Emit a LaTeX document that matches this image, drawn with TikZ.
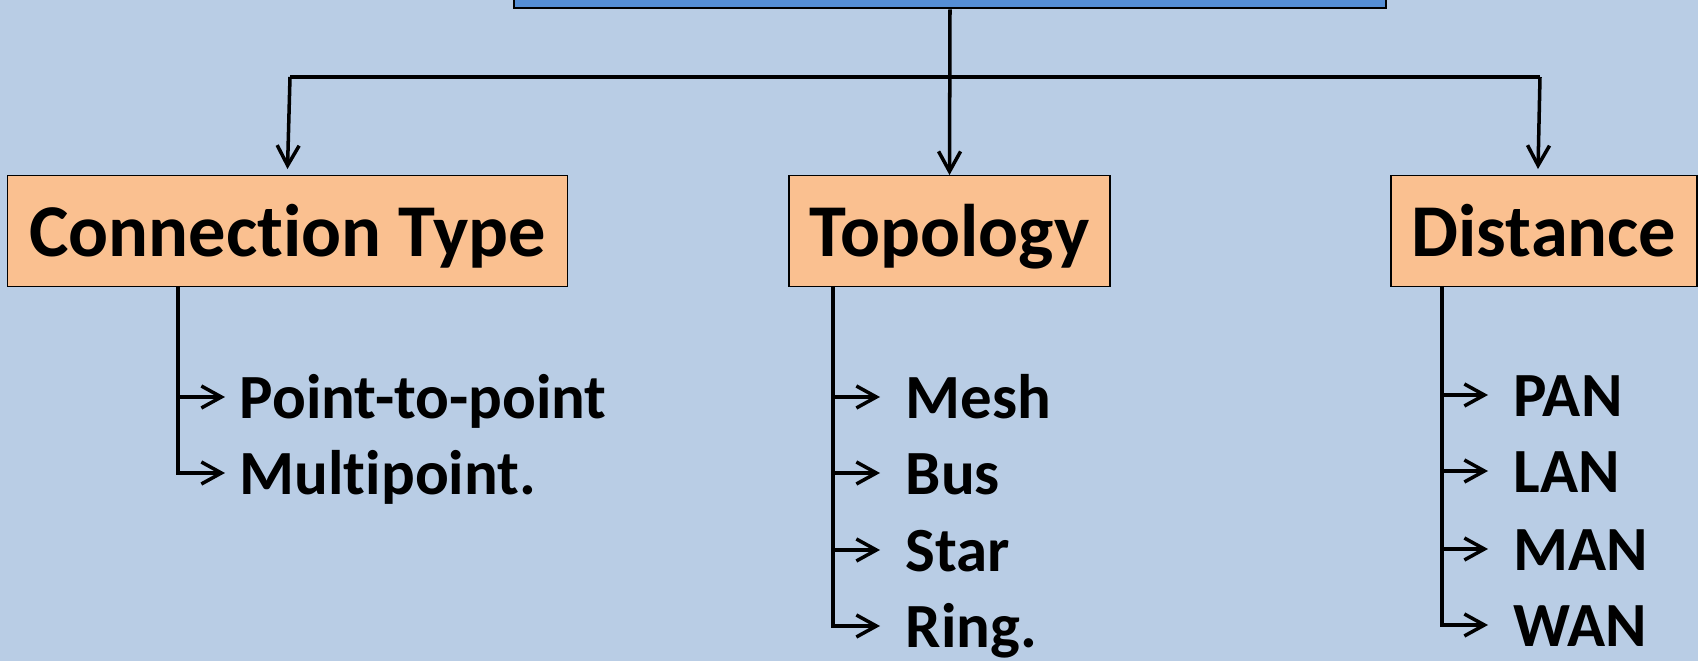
\documentclass[tikz,border=0pt]{standalone}
\usepackage{fontspec}
\setmainfont{Carlito}[Ligatures=NoCommon]
\usetikzlibrary{arrows.meta,calc}

\definecolor{bgblue}{RGB}{185,205,229}
\definecolor{rootblue}{RGB}{85,142,213}
\definecolor{boxorange}{RGB}{250,192,144}

\begin{document}
\begin{tikzpicture}[x=0.1mm,y=-0.1mm,>={Straight Barb[length=2mm,width=2.2mm]},
    box/.style={draw,line width=0.4pt,fill=boxorange,inner sep=0,minimum height=11.05mm,text height=6mm,text depth=0.8mm,font=\fontsize{21.2pt}{25pt}\selectfont\bfseries},
    item/.style={anchor=base west,inner ysep=0,inner xsep=1.4mm,text height=5mm,text depth=0.6mm,font=\fontsize{17.9pt}{21pt}\selectfont\bfseries},
    wide/.style={inner xsep=2.5mm},
    link/.style={line width=1pt}]
    \fill[bgblue] (0,0) rectangle (1698,661);
    \useasboundingbox (0,0) rectangle (1698,661);

    % top box and the three categories
    \node[draw,line width=0.8pt,fill=rootblue,anchor=south,minimum width=87.2mm,minimum height=8mm] (root) at (950,9.5) {};
    \node[box,minimum width=56mm] (conn) at (287.5,231) {Connection Type};
    \node[box,minimum width=32.1mm] (topo) at (949.5,231) {Topology};
    \node[box,minimum width=30.6mm] (dist) at (1544,231) {Distance};

    \coordinate (lsplit) at (290,77);
    \coordinate (rsplit) at (1540,77);
    \draw[link,->] (root.south) -- (topo.north);
    \draw[line width=1.2pt] (lsplit) -- (rsplit);
    \draw[link,->] (lsplit) -- ($(conn.north)+(0,-6)$);
    \draw[link,->] (rsplit) -- ($(dist.north)+(-6,-6)$);

    % connection type
    \node[item] (p2p) at (225,419) {Point-to-point};
    \node[item] (multi) at (225,495) {Multipoint.};
    \coordinate (cspine) at (178,286);
    \draw[link,->] (cspine |- p2p.west) -- (p2p.west);
    \draw[link,->] (cspine) |- (multi.west);

    % topology
    \node[item,wide] (mesh) at (880,419) {Mesh};
    \node[item,wide] (bus) at (880,495) {Bus};
    \node[item,wide] (star) at (880,572) {Star};
    \node[item,wide] (ring) at (880,648) {Ring.};
    \coordinate (tspine) at (833,286);
    \foreach \n in {mesh,bus,star}
      \draw[link,->] (tspine |- \n.west) -- (\n.west);
    \draw[link,->] (tspine) |- (ring.west);

    % distance
    \node[item,wide] (pan) at (1488,417) {PAN};
    \node[item,wide] (lan) at (1488,493) {LAN};
    \node[item,wide] (man) at (1488,571) {MAN};
    \node[item,wide] (wan) at (1488,647) {WAN};
    \coordinate (dspine) at (1442,286);
    \foreach \n in {pan,lan,man}
      \draw[link,->] (dspine |- \n.west) -- (\n.west);
    \draw[link,->] (dspine) |- (wan.west);
  \end{tikzpicture}
\end{document}
